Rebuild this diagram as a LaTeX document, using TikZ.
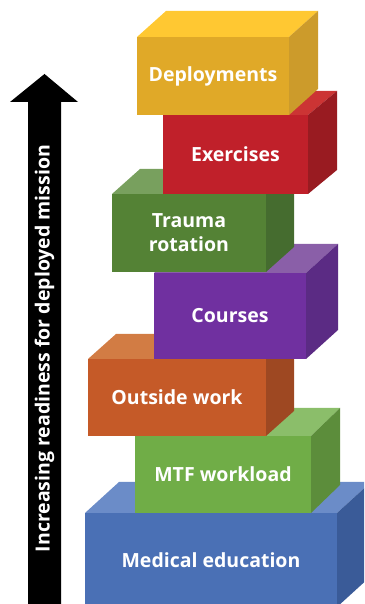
\documentclass[tikz,border=0pt]{standalone}
\usepackage{fontspec}
\setmainfont{Open Sans}
\usetikzlibrary{positioning}

\definecolor{depfront}{HTML}{E0A928}
\definecolor{deptop}{HTML}{FFC832}
\definecolor{depside}{HTML}{CC9B2B}
\definecolor{exefront}{HTML}{C0202A}
\definecolor{exetop}{HTML}{CC3434}
\definecolor{exeside}{HTML}{991B21}
\definecolor{trafront}{HTML}{548235}
\definecolor{tratop}{HTML}{78A05E}
\definecolor{traside}{HTML}{456C2F}
\definecolor{coufront}{HTML}{7030A0}
\definecolor{coutop}{HTML}{8A5FA8}
\definecolor{couside}{HTML}{5B2B84}
\definecolor{outfront}{HTML}{C55A28}
\definecolor{outtop}{HTML}{D27C44}
\definecolor{outside}{HTML}{9E4822}
\definecolor{mtffront}{HTML}{70AD47}
\definecolor{mtftop}{HTML}{8BBE6A}
\definecolor{mtfside}{HTML}{5C8D3B}
\definecolor{medfront}{HTML}{4A70B5}
\definecolor{medtop}{HTML}{6B8CC8}
\definecolor{medside}{HTML}{3A5B98}

% top and right faces of a block: node, top colour, side colour, depth
\newcommand{\blockfaces}[4]{%
  \fill[#2] (#1.north west) -- ([shift={#4}]#1.north west) -- ([shift={#4}]#1.north east) -- (#1.north east) -- cycle;
  \fill[#3] (#1.north east) -- ([shift={#4}]#1.north east) -- ([shift={#4}]#1.south east) -- (#1.south east) -- cycle;
}

\begin{document}
\begin{tikzpicture}[
  x=1pt, y=1pt,
  block/.style={anchor=south west, inner sep=0pt, outer sep=0pt, align=center,
    text=white, font=\fontsize{19.5}{24}\selectfont\bfseries},
  axislabel/.style={rotate=90, text=white, font=\fontsize{19.5}{24}\selectfont\bfseries}
]
\clip (0,0) rectangle (364,604);

\node[block, fill=medfront, minimum width=252, minimum height=94] (medical) at (85,-3) {Medical education};
\blockfaces{medical}{medtop}{medside}{(34,31)}

\node[block, fill=mtffront, minimum width=176, minimum height=77] (mtf) at (135,91) {MTF workload};
\blockfaces{mtf}{mtftop}{mtfside}{(29,28)}

\node[block, fill=outfront, minimum width=178, minimum height=77] (outside) at (88,168) {Outside work};
\blockfaces{outside}{outtop}{outside}{(28,25)}

\node[block, fill=coufront, minimum width=152, minimum height=86] (courses) at (154,245) {Courses};
\blockfaces{courses}{coutop}{couside}{(32,29)}

\node[block, fill=trafront, minimum width=154, minimum height=78] (trauma) at (112,332) {Trauma\\rotation};
\blockfaces{trauma}{tratop}{traside}{(28,25)}

\node[block, fill=exefront, minimum width=145, minimum height=79] (exercises) at (163,410) {Exercises};
\blockfaces{exercises}{exetop}{exeside}{(29,24)}

\node[block, fill=depfront, minimum width=152, minimum height=78] (deployments) at (137,489) {Deployments};
\blockfaces{deployments}{deptop}{depside}{(29,26)}

% readiness arrow
\fill[black] (28,-5) -- (28,502) -- (10,502) -- (44.5,530) -- (78,502) -- (61,502) -- (61,-5) -- cycle;
\node[axislabel] (readiness) at (44.5,255.5) {Increasing readiness for deployed mission};
\end{tikzpicture}
\end{document}
